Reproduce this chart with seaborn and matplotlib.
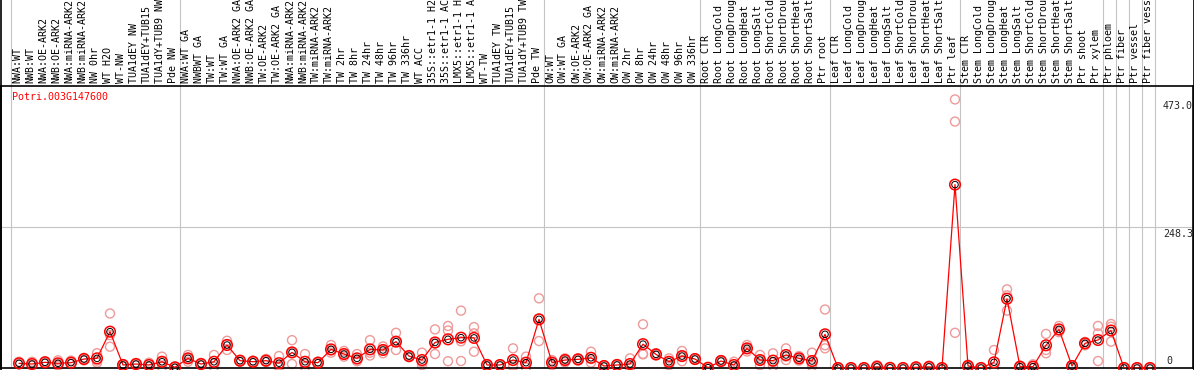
import numpy as np
import pandas as pd
import matplotlib
matplotlib.use("Agg")
import matplotlib.pyplot as plt
import matplotlib.transforms as mtransforms
from matplotlib.lines import Line2D
import seaborn as sns

title = "Potri.003G147600"

labels = [
    # group 1
    "NWA:WT", "NWB:WT", "NWA:OE-ARK2", "NWB:OE-ARK2", "NWA:miRNA-ARK2", "NWB:miRNA-ARK2",
    "NW 0hr", "WT H2O", "WT-NW", "TUA1dEY NW", "TUA1dEY+TUB15", "TUA1dY+TUB9 NW", "Pde NW",
    # group 2
    "NWA:WT GA", "NWBWT GA", "TW:WT", "TW:WT GA", "NWA:OE-ARK2 GA", "NWB:OE-ARK2 GA",
    "TW:OE-ARK2", "TW:OE-ARK2 GA", "NWA:miRNA-ARK2", "NWB:miRNA-ARK2", "TW:miRNA-ARK2",
    "TW:miRNA-ARK2", "TW 2hr", "TW 8hr", "TW 24hr", "TW 48hr", "TW 96hr", "TW 336hr",
    "WT ACC", "35S::etr1-1 H2", "35S::etr1-1 AC", "LMX5::etr1-1 H", "LMX5::etr1-1 A",
    "WT-TW", "TUA1dEY TW", "TUA1dEY+TUB15", "TUA1dY+TUB9 TW", "Pde TW",
    # group 3
    "OW:WT", "OW:WT GA", "OW:OE-ARK2", "OW:OE-ARK2 GA", "OW:miRNA-ARK2", "OW:miRNA-ARK2",
    "OW 2hr", "OW 8hr", "OW 24hr", "OW 48hr", "OW 96hr", "OW 336hr",
    # group 4
    "Root CTR", "Root LongCold", "Root LongDroug", "Root LongHeat", "Root LongSalt",
    "Root ShortCold", "Root ShortDrou", "Root ShortHeat", "Root ShortSalt", "Ptr root",
    # group 5
    "Leaf CTR", "Leaf LongCold", "Leaf LongDroug", "Leaf LongHeat", "Leaf LongSalt",
    "Leaf ShortCold", "Leaf ShortDrou", "Leaf ShortHeat", "Leaf ShortSalt", "Ptr leaf",
    # group 6
    "Stem CTR", "Stem LongCold", "Stem LongDroug", "Stem LongHeat", "Stem LongSalt",
    "Stem ShortCold", "Stem ShortDrou", "Stem ShortHeat", "Stem ShortSalt", "Ptr shoot",
    "Ptr xylem", "Ptr phloem", "Ptr fiber", "Ptr vessel", "Ptr fiber vess",
]

means = [
    8.2, 7, 10, 8.2, 9.4, 15.8, 17, 64, 5.3, 7, 5.3, 11, 1.2,
    17, 7, 11, 40.5, 12.9, 11, 12.9, 8.5, 27.5, 11, 9.4, 32.8, 24.6, 17, 32.8, 31.7,
    46.4, 21, 14, 45, 50.5, 53.4, 53, 5.3, 5.3, 14, 9.4, 85.7,
    9.4, 14, 15.2, 18, 3.5, 5.3, 7, 42, 24, 11, 21, 15.8,
    0.5, 12.3, 5.3, 34.6, 14, 13, 22.9, 17, 12.3, 59.3,
    0, 0, 0, 2, 0.3, 0, 1.2, 2, 0, 323,
    3.5, 0, 10, 122, 2.3, 2.3, 40, 68, 3.5, 43.4, 49.3, 66, 0, 0, 0,
]

rep1 = [
    11, 11, 12, 13.5, 13, 18, 26, 96, 7, 9, 9.4, 20, 2.3,
    23, 9, 23, 48, 14, 13, 16, 21, 49, 24.6, 11, 40.5, 30, 24.6, 49, 38,
    62, 23, 27, 68, 74, 101, 72, 7, 6, 34.6, 20, 122.7,
    14, 17, 17, 28.7, 5, 7, 17, 77, 26, 17, 30, 17,
    1, 14, 11, 40.5, 23, 25.8, 34.6, 21, 27, 103,
    0, 0, 0, 5, 1, 0, 2.5, 4, 0, 473.0,
    6, 0.5, 31.7, 138.5, 4, 6.5, 60, 74, 5, 46, 74, 77.5, 0, 0, 0,
]

rep2 = [
    7, 6, 10, 7, 8, 16, 13, 58, 5, 7, 4, 11, 1,
    17, 7, 8, 42, 13, 11, 12, 4, 27, 7, 9, 31, 24, 15, 27, 31,
    46, 21, 10, 43, 66, 47, 61, 5, 5, 5, 7, 87,
    9, 14, 15, 16, 3.5, 5, 4, 25, 24, 11, 21, 16,
    0.5, 12, 3, 34, 14, 10, 20, 17, 7, 40,
    0, 0, 0, 1, 0, 0, 1, 1.5, 0, 434,
    3, 0, 0, 128, 2, 0.5, 31.7, 66, 3.5, 43, 61, 72.7, 0, 0, 0,
]

rep3 = [
    6.5, 4, 8, 4, 7, 13.5, 9.4, 37.5, 3, 5, 2.3, 2, 0.3,
    11, 5, 2, 31.7, 11, 9, 10.5, 1, 7, 2, 8, 27, 20, 12, 22, 26,
    31.7, 19, 5, 24.6, 12, 12.3, 28.7, 4, 5, 2, 1, 47.5,
    5, 10, 13, 9.4, 2, 4, 0, 24, 22, 5, 12, 14.5,
    0, 11, 2, 29, 5, 3, 14, 13, 3, 34.6,
    0, 0, 0, 0, 0, 0, 0, 0.5, 0, 62,
    1.5, 0, 0, 101, 1, 0, 26, 63, 2, 40, 12.3, 46.4, 0, 0, 0,
]

group_sizes = [13, 28, 12, 10, 10, 11, 1, 1, 1, 1]
y_max_label = 473.0
y_mid_label = 248.3
y_top = 496.65
right_labels = ["473.0", "248.3", "0"]

# ---------------------------------------------------------------
W, H = 1194, 370
sns.set_style("white")
plt.rcParams['font.family'] = ['DejaVu Sans Mono', 'DejaVu Sans']

n = len(labels)
xs = np.arange(n)

fig = plt.figure(figsize=(W / 100, H / 100), dpi=100)
ax_left_px, ax_right_px, ax_bottom_px, ax_top_px = 1, 1193, 368, 86
ax = fig.add_axes([ax_left_px / W, (H - ax_bottom_px) / H,
                   (ax_right_px - ax_left_px) / W, (ax_bottom_px - ax_top_px) / H])

# data x -> pixel: px = 19 + 13*i
x0 = (ax_left_px - 19) / 13
x1 = (ax_right_px - 19) / 13
ax.set_xlim(x0, x1)
ax.set_ylim(0, y_top)

grey = "#c4c4c4"
fs = 7.2
ax_h_px = ax_bottom_px - ax_top_px

# vertical separators spanning the label area too
bounds = [0] + list(np.cumsum(group_sizes))
for b in bounds:
    ax.axvline(b - 0.64, ymin=0, ymax=(ax_bottom_px + 1) / ax_h_px, color=grey,
               lw=0.8, clip_on=False, zorder=1)

# mid horizontal gridline
ax.axhline(y_mid_label, color=grey, lw=0.8, zorder=1)

# replicates
rep_df = pd.DataFrame({
    "x": np.concatenate([xs, xs, xs]),
    "value": np.concatenate([rep1, rep2, rep3]),
})
sns.scatterplot(data=rep_df, x="x", y="value", ax=ax, marker="o", s=42,
                facecolors="none", edgecolor="#ee9a9a", linewidth=1.0,
                legend=False, zorder=2, clip_on=False)

# mean line
mean_df = pd.DataFrame({"x": xs, "value": means})
sns.lineplot(data=mean_df, x="x", y="value", ax=ax, color="#ff0000", lw=0.9,
             legend=False, zorder=3, clip_on=True)
sns.scatterplot(data=mean_df, x="x", y="value", ax=ax, marker="o", s=58,
                facecolors="none", edgecolor="#ff0000", linewidth=1.1,
                legend=False, zorder=4, clip_on=False)
sns.scatterplot(data=mean_df, x="x", y="value", ax=ax, marker="o", s=22,
                facecolors="none", edgecolor="#000000", linewidth=0.7,
                legend=False, zorder=5, clip_on=False)

# column labels on top
trans = mtransforms.blended_transform_factory(ax.transData, ax.transAxes)
for i, lab in enumerate(labels):
    ax.text(i - 0.15, 1 + 3 / ax_h_px, lab, rotation=90, ha="center", va="bottom",
            fontsize=fs, color="black", transform=trans, clip_on=False)

# right value labels
rx = (1163 - 19) / 13
ax.text(rx, y_max_label - 3, right_labels[0], ha="left", va="top", fontsize=fs)
ax.text(rx, y_mid_label - 3, right_labels[1], ha="left", va="top", fontsize=fs)
ax.text((1166 - 19) / 13, 3, right_labels[2], ha="left", va="bottom", fontsize=fs)

# title
fig.text(12 / W, 1 - 92 / H, title, color="#ff0000", fontsize=fs, ha="left", va="top")

ax.set_xlabel("")
ax.set_ylabel("")
ax.set_xticks([])
ax.set_yticks([])
for s in ax.spines.values():
    s.set_color("black")
    s.set_linewidth(1.2)

# outer frame around the label area
fig.add_artist(Line2D([0.5 / W, 0.5 / W], [0, 1], transform=fig.transFigure, color="black", lw=1.2))
fig.add_artist(Line2D([1 - 0.5 / W, 1 - 0.5 / W], [0, 1], transform=fig.transFigure, color="black", lw=1.2))

fig.savefig("out.png", dpi=100)
